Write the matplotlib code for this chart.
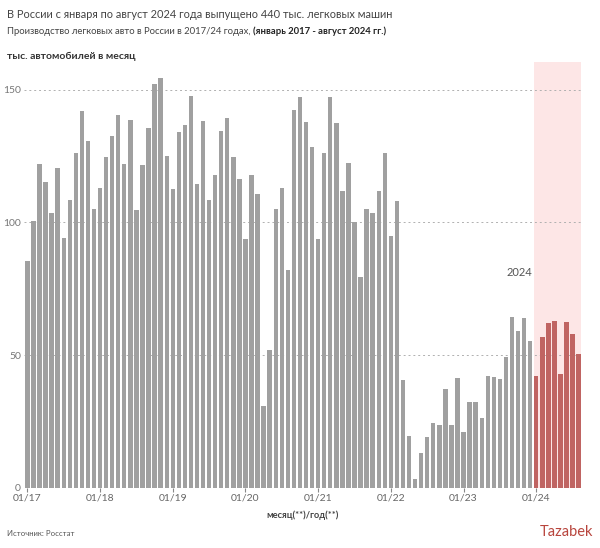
import matplotlib
matplotlib.use("Agg")
import matplotlib.pyplot as plt

plt.rcParams['font.family'] = ['Lato', 'DejaVu Sans']

# выпуск легковых авто, тыс. шт. в месяц, январь 2017 - август 2024
y2017 = [85.3, 100.6, 122.1, 115.3, 103.5, 120.6, 94.1, 108.4, 126.2, 142.1, 130.5, 105.1]
y2018 = [112.9, 124.7, 132.5, 140.5, 122.0, 138.5, 104.5, 121.5, 135.5, 152.0, 154.5, 125.0]
y2019 = [112.5, 133.9, 136.8, 147.5, 114.5, 138.2, 108.4, 117.7, 134.5, 139.3, 124.5, 116.2]
y2020 = [93.9, 117.7, 110.7, 30.9, 52.0, 104.9, 113.0, 81.9, 142.3, 147.2, 137.7, 128.2]
y2021 = [93.8, 126.0, 147.2, 137.4, 111.8, 122.2, 100.0, 79.5, 105.1, 103.4, 111.9, 126.0]
y2022 = [94.7, 108.0, 40.7, 19.7, 3.5, 13.3, 19.2, 24.5, 23.6, 37.2, 23.6, 41.3]
y2023 = [21.1, 32.4, 32.5, 26.2, 42.1, 41.9, 40.9, 49.5, 64.2, 59.2, 64.1, 55.4]
y2024 = [42.1, 56.8, 62.2, 62.8, 43.0, 62.4, 58.0, 50.6]

tick_labels = ["01/17", "01/18", "01/19", "01/20", "01/21", "01/22", "01/23", "01/24"]
y_ticks = [0, 50, 100, 150]

old = y2017 + y2018 + y2019 + y2020 + y2021 + y2022 + y2023
x_old = list(range(len(old)))
x_new = list(range(len(old), len(old) + len(y2024)))

fig = plt.figure(figsize=(6, 5.48), dpi=100)
ax = fig.add_axes([0.0395, 0.1095, 0.93, 0.778])

# розовая подложка под 2024 год
ax.axvspan(x_new[0] - 0.36, x_new[-1] + 0.36, color="#fde6e6", zorder=0, lw=0)

ax.bar(x_old, old, width=0.72, color="#a0a0a0", zorder=2)
ax.bar(x_new, y2024, width=0.72, color="#c06462", zorder=2)

ax.set_xlim(-0.6, 91.5)
ax.set_ylim(0, 160.5)
ax.set_yticks(y_ticks)
ax.set_yticklabels([str(v) for v in y_ticks], color="#777777", fontsize=7.5)
for v in y_ticks[1:]:
    ax.axhline(v, color="#b0b0b0", lw=0.7, ls=(0, (2, 3)), zorder=1)

ax.set_xticks([12 * i for i in range(len(tick_labels))])
ax.set_xticklabels(tick_labels, color="#666666", fontsize=7.5)
ax.tick_params(axis="y", length=0, pad=2)
ax.tick_params(axis="x", length=3, color="#888888", pad=1)
for s in ax.spines.values():
    s.set_visible(False)

ax.set_xlabel("месяц(**)/год(**)", fontsize=6.7, fontweight="bold", color="#444444", labelpad=6)

ax.text(83.3, 81, "2024", ha="right", va="center", fontsize=8, color="#555555")

fig.text(7 / 600, 1 - 14 / 548, "В России с января по август 2024 года выпущено 440 тыс. легковых машин",
         fontsize=7.9, color="#444444", va="center")
t2 = fig.text(7 / 600, 1 - 31 / 548, "Производство легковых авто в России в 2017/24 годах, ",
              fontsize=6.8, color="#444444", va="center")
ax.annotate("(январь 2017 - август 2024 гг.)", xy=(1, 0.5), xycoords=t2, va="center",
            fontsize=6.8, color="#222222", fontweight="bold")
fig.text(7 / 600, 1 - 56 / 548, "тыс. автомобилей в месяц", fontsize=7.5, color="#333333",
         fontweight="bold", va="center")

fig.text(7 / 600, 1 - 534 / 548, "Источник: Росстат", fontsize=5.6, color="#555555", va="center")
fig.text(593 / 600, 1 - 532 / 548, "Tazabek", fontsize=10.5, color="#b8453d", ha="right",
         va="center")

fig.savefig("out.png", dpi=100)
